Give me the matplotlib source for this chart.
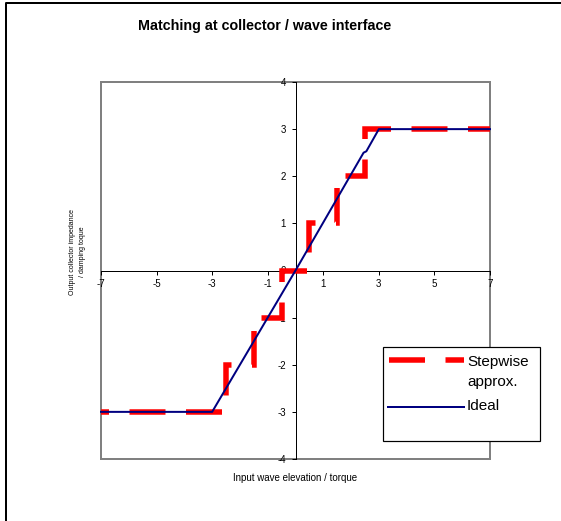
import matplotlib
matplotlib.use("Agg")
import matplotlib.pyplot as plt
from matplotlib.lines import Line2D
from matplotlib.patches import Rectangle

plt.rcParams['font.family'] = ['Liberation Sans', 'DejaVu Sans']
plt.rcParams['lines.scale_dashes'] = False

# Data
step_x = [-7, -2.5, -2.5, -1.5, -1.5, -0.5, -0.5, 0.5, 0.5, 1.5, 1.5, 2.5, 2.5, 7]
step_y = [-3, -3, -2, -2, -1, -1, 0, 0, 1, 1, 2, 2, 3, 3]
ideal_x = [-7, -3, -0.5, 0, 2.45, 2.55, 3, 7]
ideal_y = [-3, -3, -0.5, 0, 2.5, 2.53, 3, 3]
xticks = [-7, -5, -3, -1, 1, 3, 5, 7]
yticks = [-4, -3, -2, -1, 0, 1, 2, 3, 4]
series_names = ['Stepwise\napprox.', 'Ideal']

W, H = 561, 521
fig = plt.figure(figsize=(W / 100, H / 100), dpi=100)
ax = fig.add_axes([101 / W, 1 - 459 / H, 389 / W, 377 / H])

px = 72 / 100.0  # points per pixel
dash = (36 * px, 20.5 * px)
red_kw = dict(color='#ff0000', lw=5.5 * px, dash_joinstyle='miter', dash_capstyle='butt')
blue_kw = dict(color='#000080', lw=2 * px)

ax.plot(step_x, step_y, linestyle=(28 * px, dash), zorder=3, clip_on=False, **red_kw)
ax.plot(ideal_x, ideal_y, zorder=4, clip_on=False, **blue_kw)

ax.set_xlim(-7, 7)
ax.set_ylim(-4, 4)

for s in ['top', 'right']:
    ax.spines[s].set_visible(False)
ax.spines['left'].set_position(('data', 0))
ax.spines['bottom'].set_position(('data', 0))
for s in ['left', 'bottom']:
    ax.spines[s].set_color('black')
    ax.spines[s].set_linewidth(1 * px)
    ax.spines[s].set_zorder(2)

ax.set_xticks(xticks)
ax.set_yticks(yticks)
ax.set_xticklabels([str(v) for v in xticks])
ax.set_yticklabels([str(v) for v in yticks])
ax.tick_params(axis='both', direction='out', length=4 * px, width=1 * px,
               labelsize=7, pad=3)
ax.tick_params(axis='y', pad=4)

# plot-area gray border
ax.add_patch(Rectangle((0, 0), 1, 1, transform=ax.transAxes, fill=False,
                       edgecolor='#808080', lw=2 * px, clip_on=False, zorder=1))

# legend (box, sample lines, labels)
fig.add_artist(Rectangle((383 / W, 1 - 441 / H), (540 - 383) / W, (441 - 347) / H,
                         transform=fig.transFigure, facecolor='white', edgecolor='black',
                         lw=1.2 * px, zorder=8))
fig.add_artist(Line2D([389 / W, 464 / W], [1 - 360 / H, 1 - 360 / H],
                      transform=fig.transFigure, linestyle=(0, dash), zorder=9, **red_kw))
fig.add_artist(Line2D([388 / W, 464 / W], [1 - 407 / H, 1 - 407 / H],
                      transform=fig.transFigure, zorder=9, **blue_kw))
fig.text(467 / W, 1 - 362 / H, series_names[0].split('\n')[0], ha='left', va='center',
         fontsize=11, zorder=10)
fig.text(467 / W, 1 - 382 / H, series_names[0].split('\n')[1], ha='left', va='center',
         fontsize=11, zorder=10)
fig.text(467 / W, 1 - 406 / H, series_names[1], ha='left', va='center',
         fontsize=11, zorder=10)

# titles / labels
fig.text(264.5 / W, 1 - 26 / H, 'Matching at collector / wave interface',
         ha='center', va='center', fontsize=10.3, fontweight='bold')
fig.text(295 / W, 1 - 478 / H, 'Input wave elevation / torque',
         ha='center', va='center', fontsize=7)
fig.text(78 / W, 1 - 252 / H, 'Output collector impedance\n/ damping toque',
         ha='center', va='center', fontsize=5.0, rotation=90, linespacing=1.6,
         multialignment='center')

# outer chart border (left and top edges visible)
fig.add_artist(Line2D([6 / W, 6 / W, 1], [0, 1 - 3 / H, 1 - 3 / H],
                      transform=fig.transFigure, color='black', lw=2 * px))

fig.savefig('out.png', dpi=100)
